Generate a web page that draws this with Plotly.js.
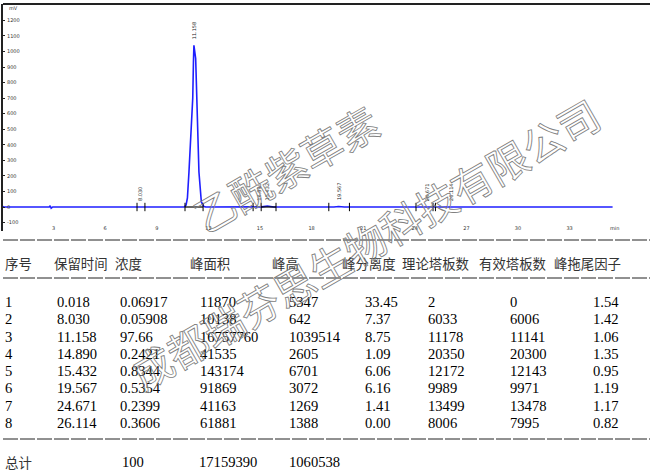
<!DOCTYPE html>
<html>
<head>
<meta charset="utf-8">
<script src="https://cdn.plot.ly/plotly-3.0.1.min.js"></script>
<style>
  html, body { margin: 0; padding: 0; background: #fff; }
  #chart { width: 650px; height: 475px; }
  text[style*="fill: rgb(137, 137, 137)"] {
    fill: none !important;
    stroke: rgb(128, 128, 128);
    stroke-width: 0.85px;
  }
</style>
</head>
<body>
<div id="chart"></div>
<script>
// ---- Chromatogram signal (min, mV) ----
const signalTime = [0, 0.018, 0.1, 2.75, 2.80, 2.86, 2.95, 7.9, 8.03, 8.2,
  10.60, 10.70, 10.78, 10.87, 11.01, 11.09, 11.13, 11.158, 11.26, 11.32, 11.36, 11.45, 11.59, 11.74, 11.85,
  14.7, 14.89, 15.1, 15.432, 15.8, 19.3, 19.567, 19.9, 24.4, 24.671, 24.9, 25.9, 26.114, 26.4, 35.5];
const signalMV = [0, 5.3, 0, 0, 8, -8, 0, 0, 0.64, 0,
  0, 12, 58, 225, 508, 701, 932, 1039.5, 955, 701, 444, 225, 32, 3, 0,
  0, 2.6, 1, 6.7, 0, 0, 3.07, 0, 0, 1.27, 0, 0, 1.39, 0, 0];

// integration marks (peak start / end), min
const markTimes = [7.85, 8.31, 10.64, 11.69, 14.6, 15.07, 15.93, 19.0, 20.2, 24.07, 25.06, 25.2];
// integration baseline segments
const baseX = [10.64, 11.69, null, 15.07, 15.93];
const baseY = [0, 0, null, 0, 0];

// ---- Peak table ----
const colHeaders = ["序号", "保留时间", "浓度", "峰面积", "峰高", "峰分离度", "理论塔板数", "有效塔板数", "峰拖尾因子"];
const peakNo = ["1", "2", "3", "4", "5", "6", "7", "8"];
const retTime = ["0.018", "8.030", "11.158", "14.890", "15.432", "19.567", "24.671", "26.114"];
const concentration = ["0.06917", "0.05908", "97.66", "0.2421", "0.8344", "0.5354", "0.2399", "0.3606"];
const peakArea = ["11870", "10138", "16757760", "41535", "143174", "91869", "41163", "61881"];
const peakHeight = ["5347", "642", "1039514", "2605", "6701", "3072", "1269", "1388"];
const resolution = ["33.45", "7.37", "8.75", "1.09", "6.06", "6.16", "1.41", "0.00"];
const theoPlates = ["2", "6033", "11178", "20350", "12172", "9989", "13499", "8006"];
const effPlates = ["0", "6006", "11141", "20300", "12143", "9971", "13478", "7995"];
const tailing = ["1.54", "1.42", "1.06", "1.35", "0.95", "1.19", "1.17", "0.82"];
const totalRow = {label: "总计", conc: "100", area: "17159390", height: "1060538"};

// ---- Axis ticks ----
const yTicks = [-100, 0, 100, 200, 300, 400, 500, 600, 700, 800, 900, 1000, 1100, 1200];
const xTicks = [3, 6, 9, 12, 15, 18, 21, 24, 27, 30, 33];

// ---- Watermarks ----
const watermark1 = "乙酰紫草素";
const watermark2 = "成都瑞芬思生物科技有限公司";

// ---- layout helpers (pixel -> paper) ----
const M = {l: 3, r: 0, t: 4, b: 244};
const plotW = 650 - M.l - M.r, plotH = 475 - M.t - M.b;
const xp = px => (px - M.l) / plotW;
const yp = py => (475 - M.b - py) / plotH;

const annotations = [];
function txt(px, py, text, font, extra) {
  annotations.push(Object.assign({
    xref: 'paper', yref: 'paper', x: xp(px), y: yp(py), text: text,
    showarrow: false, xanchor: 'left', yanchor: 'middle', font: font
  }, extra || {}));
}

const cjk = {family: '"Noto Sans CJK SC", sans-serif', size: 13.4, color: '#333'};
const serif = {family: '"Liberation Serif", "Times New Roman", serif', size: 14.6, color: '#000'};

// header
const headerX = [3, 52, 113, 188, 270, 340, 400, 477, 552];
colHeaders.forEach((h, i) => txt(headerX[i], 263, h, cjk));

// rows
const dataX = [3, 55, 118, 198, 287, 363, 426, 508, 591];
const cols = [peakNo, retTime, concentration, peakArea, peakHeight, resolution, theoPlates, effPlates, tailing];
peakNo.forEach((_, r) => {
  const py = 302 + r * 17.25;
  cols.forEach((c, ci) => txt(dataX[ci], py, c[r], serif));
});
txt(3, 462, totalRow.label, cjk);
txt(120, 462, totalRow.conc, serif);
txt(197, 462, totalRow.area, serif);
txt(287, 462, totalRow.height, serif);

// axis unit labels
txt(7, 8, "mV", {family: 'DejaVu Sans', size: 5, color: '#333'});
txt(608, 228, "min", {family: 'DejaVu Sans', size: 5, color: '#333'});

// peak retention-time labels (data referenced)
const peakHeightMV = peakHeight.map(v => Number(v) / 1000);
retTime.forEach((rt, i) => {
  if (i === 0) return;
  annotations.push({
    xref: 'x', yref: 'y', x: Number(rt), y: peakHeightMV[i], text: rt,
    showarrow: false, textangle: -90, xanchor: 'center', yanchor: 'bottom', yshift: 4,
    font: {family: 'DejaVu Sans', size: 5, color: '#222'}
  });
});

// watermarks
const wmFont = {family: '"Noto Sans CJK SC", sans-serif', size: 41, color: 'rgb(137,137,137)'};
txt(285, 168, watermark1, wmFont, {xanchor: 'center', textangle: -30});
txt(364, 243, watermark2, wmFont, {xanchor: 'center', textangle: -30});

// dashed rules
const shapes = [240, 278, 439].map(py => ({
  type: 'line', xref: 'paper', yref: 'paper', x0: xp(3), x1: xp(650), y0: yp(py), y1: yp(py),
  line: {color: '#222', width: 1, dash: '15px,2px'}
}));
// top frame line
shapes.push({type: 'line', xref: 'paper', yref: 'paper', x0: 0, x1: 1, y0: 1, y1: 1,
  line: {color: '#222', width: 2}});

const traces = [
  {x: signalTime, y: signalMV, type: 'scatter', mode: 'lines',
   line: {color: '#1f1fff', width: 1.6}, hoverinfo: 'skip'},
  {x: baseX, y: baseY, type: 'scatter', mode: 'lines', connectgaps: false,
   line: {color: '#000', width: 1.2}, hoverinfo: 'skip'},
  {x: markTimes, y: markTimes.map(() => 0), type: 'scatter', mode: 'markers',
   marker: {symbol: 'line-ns', size: 6, line: {color: '#000', width: 1}}, hoverinfo: 'skip'}
];

const layout = {
  width: 650, height: 475, margin: M,
  paper_bgcolor: '#fff', plot_bgcolor: '#fff', showlegend: false,
  xaxis: {range: [(M.l - 2) / 17.2, (650 - 2) / 17.2], showgrid: false, zeroline: false,
    showline: false, tickvals: xTicks, ticktext: xTicks.map(String), ticks: '',
    ticklabelposition: 'inside', ticklabelstandoff: -3,
    tickfont: {family: 'DejaVu Sans', size: 5, color: '#333'}},
  yaxis: {range: [-(475 - M.b - 207) / 0.1555, (207 - M.t) / 0.1555], showgrid: false, zeroline: false,
    showline: true, linecolor: '#222', linewidth: 2, tickvals: yTicks, ticktext: yTicks.map(String),
    ticks: 'inside', ticklen: 2, tickcolor: '#222', ticklabelposition: 'inside',
    tickfont: {family: 'DejaVu Sans', size: 5, color: '#333'}},
  annotations: annotations, shapes: shapes
};

Plotly.newPlot('chart', traces, layout, {staticPlot: true, displayModeBar: false});
</script>
</body>
</html>
